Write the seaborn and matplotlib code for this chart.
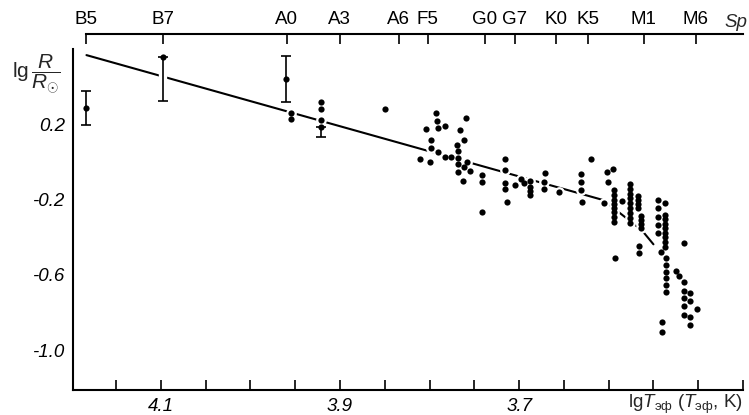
import numpy as np
import pandas as pd
import matplotlib
matplotlib.use('Agg')
import matplotlib.pyplot as plt
import matplotlib.patheffects as pe
import seaborn as sns

# --- данные ---
# горячие звёзды (без ошибок)
hot_lgT = [3.955, 3.955, 3.921, 3.921, 3.921, 3.850]
hot_lgR = [0.262, 0.228, 0.320, 0.280, 0.223, 0.281]

# звёзды с ошибками
err_lgT = [4.184, 4.098, 3.960, 3.921]
err_lgR = [0.288, 0.556, 0.441, 0.187]
err_lo = [0.09, 0.23, 0.12, 0.053]
err_hi = [0.09, 0.0, 0.12, 0.0]

# F - G0
f_lgT = [3.793, 3.792, 3.759, 3.804, 3.790, 3.783, 3.766, 3.798, 3.762, 3.769,
         3.798, 3.768, 3.790, 3.783, 3.776, 3.768, 3.811, 3.800, 3.758, 3.768,
         3.762, 3.755, 3.768, 3.763, 3.741, 3.741, 3.741]
f_lgR = [0.258, 0.219, 0.232, 0.173, 0.179, 0.189, 0.170, 0.117, 0.115, 0.092,
         0.076, 0.058, 0.051, 0.028, 0.028, 0.023, 0.017, 0.000, -0.002, -0.012,
         -0.028, -0.048, -0.053, -0.101, -0.069, -0.105, -0.267]

# G - K
gk_lgT = [3.716, 3.716, 3.716, 3.716, 3.714, 3.705, 3.698, 3.694, 3.688, 3.688,
          3.688, 3.688, 3.671, 3.672, 3.672, 3.655, 3.631, 3.631, 3.631, 3.630,
          3.620, 3.602, 3.595, 3.601, 3.605, 3.585, 3.593]
gk_lgR = [0.016, -0.043, -0.110, -0.145, -0.214, -0.122, -0.092, -0.113, -0.101, -0.131,
          -0.154, -0.176, -0.057, -0.108, -0.145, -0.158, -0.064, -0.105, -0.149, -0.214,
          0.016, -0.052, -0.039, -0.108, -0.220, -0.207, -0.512]

# M
m_lgT = ([3.594] * 8 + [3.576] * 9 + [3.567] * 4 + [3.564] * 4 + [3.566] * 2
         + [3.545] * 5 + [3.542] + [3.537] * 9 + [3.536] * 6 + [3.540] * 2)
m_lgR = [-0.149, -0.176, -0.202, -0.225, -0.246, -0.267, -0.291, -0.321,
         -0.117, -0.145, -0.172, -0.193, -0.220, -0.246, -0.273, -0.299, -0.326,
         -0.179, -0.202, -0.225, -0.246,
         -0.286, -0.308, -0.331, -0.352,
         -0.446, -0.485,
         -0.202, -0.246, -0.291, -0.335, -0.379,
         -0.480,
         -0.220, -0.282, -0.305, -0.331, -0.352, -0.376, -0.400, -0.424, -0.450,
         -0.512, -0.547, -0.583, -0.618, -0.654, -0.689,
         -0.849, -0.902]

# поздние M
lm_lgT = [3.516, 3.525, 3.521, 3.516, 3.516, 3.509, 3.516, 3.509, 3.516, 3.501,
          3.516, 3.509, 3.509]
lm_lgR = [-0.431, -0.578, -0.604, -0.636, -0.684, -0.698, -0.724, -0.737, -0.765,
          -0.783, -0.813, -0.825, -0.866]

# аппроксимирующая линия
fit_lgT = [4.183, 3.606, 3.563, 3.550]
fit_lgR = [0.568, -0.202, -0.362, -0.437]

# спектральные классы (верхняя шкала)
sp_names = ['B5', 'B7', 'A0', 'A3', 'A6', 'F5', 'G0', 'G7', 'K0', 'K5', 'M1', 'M6']
sp_lgT = [4.183, 4.098, 3.960, 3.901, 3.835, 3.803, 3.739, 3.706, 3.660, 3.624, 3.562, 3.504]

x_ticks = [4.15, 4.10, 4.05, 4.00, 3.95, 3.90, 3.85, 3.80, 3.75, 3.70, 3.65, 3.60, 3.55, 3.50, 3.45]
x_labels = ['', '4.1', '', '', '', '3.9', '', '', '', '3.7', '', '', '', '', '']
y_ticks = [0.6, 0.4, 0.2, 0.0, -0.2, -0.4, -0.6, -0.8, -1.0]
y_labels = ['', '', '0.2', '', '-0.2', '', '-0.6', '', '-1.0']

# --- оформление ---
sns.set_style('white')
plt.rcParams['font.family'] = ['Liberation Sans', 'DejaVu Sans']
plt.rcParams['mathtext.fontset'] = 'custom'
plt.rcParams['mathtext.rm'] = 'Liberation Sans'
plt.rcParams['mathtext.it'] = 'Liberation Sans:italic'

FS = 13.5

pts = pd.DataFrame({
    'lgT': hot_lgT + f_lgT + gk_lgT + m_lgT + lm_lgT + err_lgT,
    'lgR': hot_lgR + f_lgR + gk_lgR + m_lgR + lm_lgR + err_lgR,
})

XMIN, XMAX = 4.198, 3.4515
YMIN, YMAX = -1.211, 0.68

fig = plt.figure(figsize=(7.49, 4.15), dpi=100)
ax = fig.add_axes([0.0975, 0.0602, 0.8945, 0.8578])

# линия
sns.lineplot(x=fit_lgT, y=fit_lgR, sort=False, estimator=None, color='black',
             linewidth=1.5, ax=ax, zorder=1)
# белый ореол вокруг точек (разрывы линии)
sns.scatterplot(data=pts, x='lgT', y='lgR', color='white', s=60, linewidth=0,
                ax=ax, zorder=2)

eb = ax.errorbar(err_lgT, err_lgR, yerr=[err_lo, err_hi], fmt='none', ecolor='black',
                 elinewidth=1.2, capsize=3.5, capthick=1.2, zorder=3)
for col in eb[2]:
    col.set_path_effects([pe.withStroke(linewidth=6, foreground='white')])

sns.scatterplot(data=pts, x='lgT', y='lgR', color='black', s=20, linewidth=0,
                ax=ax, zorder=4)

ax.set_xlim(XMIN, XMAX)
ax.set_ylim(YMIN, YMAX)
ax.set_xlabel('')
ax.set_ylabel('')
ax.set_xticks(x_ticks)
ax.set_xticklabels(x_labels, fontstyle='italic', fontsize=FS)
ax.set_yticks(y_ticks)
ax.set_yticklabels(y_labels, fontstyle='italic', fontsize=FS)
ax.tick_params(axis='both', direction='in', length=7, width=1.2, pad=6, colors='black')

for s in ['top', 'right']:
    ax.spines[s].set_visible(False)
for s in ['left', 'bottom']:
    ax.spines[s].set_linewidth(1.5)
    ax.spines[s].set_color('black')
ax.spines['left'].set_bounds(YMIN, 0.6)

# верхняя шкала спектральных классов
ax2 = ax.twiny()
ax2.set_xlim(XMIN, XMAX)
ax2.set_xticks(sp_lgT)
ax2.set_xticklabels(sp_names, fontsize=FS)
ax2.tick_params(axis='x', direction='in', length=7, width=1.2, pad=4, colors='black')
for s in ['left', 'right', 'bottom']:
    ax2.spines[s].set_visible(False)
ax2.spines['top'].set_linewidth(1.5)
ax2.spines['top'].set_color('black')
ax2.spines['top'].set_bounds(sp_lgT[0], XMAX)

fig.text(0.982, 0.946, 'Sp', fontstyle='italic', fontsize=FS, ha='center', va='center')
fig.text(0.992, 0.026, r'lg$T_{\mathregular{эф}}$ ($T_{\mathregular{эф}}$, K)',
         fontsize=FS, ha='right', va='center')
fig.text(0.048, 0.822, r'lg$\,\dfrac{R}{R_{\odot}}$', fontsize=15, ha='center', va='center')

plt.savefig('out.png', dpi=100, facecolor='white')
plt.close()
